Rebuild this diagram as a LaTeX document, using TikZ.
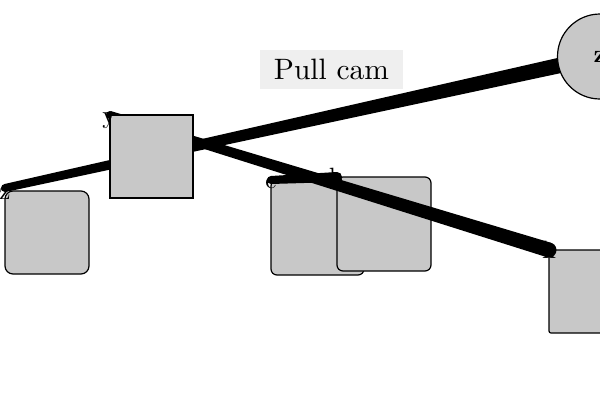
\documentclass[tikz,border=0pt]{standalone}
\usepackage{fontspec}
\setmainfont{lmroman10-regular.otf}[BoldFont=lmroman10-bold.otf]
\usetikzlibrary{calc}
\definecolor{boxgray}{RGB}{200,200,200}
\definecolor{tagbg}{RGB}{239,239,239}
\pgfdeclarelayer{bg}
\pgfdeclarelayer{mid}
\pgfsetlayers{bg,mid,main}
\newcommand\taperline[4]{%
  \fill ($(#1)!#3!90:(#2)$) -- ($(#2)!#4!-90:(#1)$) -- ($(#2)!#4!90:(#1)$) -- ($(#1)!#3!-90:(#2)$) -- cycle;
  \fill (#1) circle (#3);
  \fill (#2) circle (#4);}
\begin{document}
\begin{tikzpicture}[x=1pt,y=-1pt,
  box/.style={draw=black,fill=boxgray,line width=1.2pt,inner sep=0pt,outer sep=0pt,anchor=north west},
  lbl/.style={inner sep=0pt,anchor=base,font=\fontsize{25}{27}\selectfont},
  tag/.style={fill=tagbg,inner sep=0pt,minimum width=143pt,minimum height=39pt,font=\fontsize{29.5}{31}\selectfont}]
\useasboundingbox (0,0) rectangle (600,400);
\begin{pgfonlayer}{bg}
  \node[box,rounded corners=8pt,minimum width=84pt,minimum height=83pt] (bz) at (5,191) {};
  \node[box,rounded corners=6pt,minimum width=93pt,minimum height=95pt] (be) at (271,180) {};
  \node[box,rounded corners=6pt,minimum width=94pt,minimum height=94pt] (bb) at (337,177) {};
  \node[box,rounded corners=2pt,minimum width=80pt,minimum height=83pt] (bh) at (549,250) {};
\end{pgfonlayer}
\node[box,minimum width=83pt,minimum height=83pt] (by) at (110,115) {};
\node[draw=black,fill=boxgray,line width=1.2pt,circle,minimum size=85pt,inner sep=0pt,font=\fontsize{25}{27}\selectfont\bfseries] (cz) at (600,56.5) {z};
\begin{pgfonlayer}{mid}
  \coordinate (sz) at ($(bz.north west)+(0,-3)$);
  \taperline{sz}{cz.center}{4pt}{8pt}
  \taperline{by.north west}{bh.north west}{4pt}{7.5pt}
  \taperline{be.north west}{bb.north west}{4pt}{5pt}
\end{pgfonlayer}
\node[tag] (pc) at (331.5,69.5) {Pull cam};
\node[lbl] (lz) at ($(bz.north west)+(0,8)$) {z};
\node[lbl] (ly) at ($(by.north west)+(-1,8)$) {y};
\node[lbl] (le) at ($(be.north west)+(0,8)$) {e};
\node[lbl] (lb) at ($(bb.north west)+(-1,8)$) {b};
\node[lbl] (lh) at ($(bh.north west)+(0,8)$) {h};
\end{tikzpicture}
\end{document}
